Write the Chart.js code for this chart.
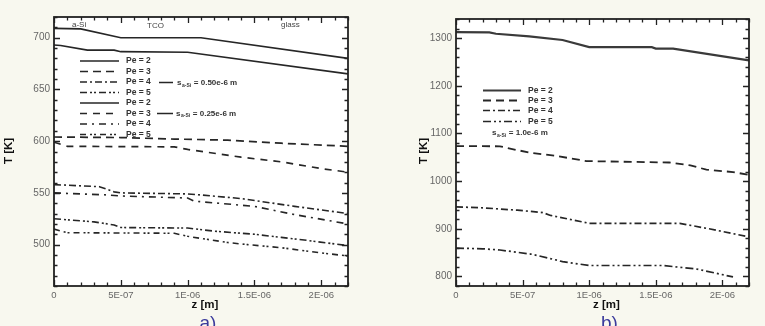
<!DOCTYPE html>
<html><head><meta charset="utf-8">
<script src="https://cdn.jsdelivr.net/npm/chart.js@4/dist/chart.umd.min.js"></script>
<style>
html,body{margin:0;padding:0;background:#f8f8ef;width:765px;height:326px;overflow:hidden;}
#wa{position:absolute;left:0;top:0;width:385px;height:326px;}
#wb{position:absolute;left:385px;top:0;width:380px;height:326px;}
</style></head><body>
<div id="wa"><canvas id="ca" width="385" height="326"></canvas></div>
<div id="wb"><canvas id="cb" width="380" height="326"></canvas></div>
<script>
// ---- axis ticks ----
const zTicks = [0, 5e-7, 1e-6, 1.5e-6, 2e-6];
const zTickLabels = ['0', '5E-07', '1E-06', '1.5E-06', '2E-06'];
const tTicksA = [500, 550, 600, 650, 700];
const tTicksB = [800, 900, 1000, 1100, 1200, 1300];
const legendLabels = ['Pe = 2', 'Pe = 3', 'Pe = 4', 'Pe = 5'];
const sLabelsA = ['0.50e-6 m', '0.25e-6 m'];
const sLabelB = '1.0e-6 m';

// ---- panel a, s_a-Si = 0.50e-6 m ----
const zA50pe2 = [0, 0.2e-6, 0.5e-6, 1.1e-6, 2.2e-6];
const TA50pe2 = [709, 708.5, 700, 700, 680];
const zA50pe3 = [0, 0.5e-6, 0.9e-6, 1.3e-6, 1.7e-6, 2.2e-6];
const TA50pe3 = [604, 603.5, 602, 601, 598, 595];
const zA50pe4 = [0, 0.34e-6, 0.45e-6, 0.5e-6, 1.0e-6, 1.1e-6, 1.4e-6, 1.8e-6, 2.2e-6];
const TA50pe4 = [558, 556, 551, 550, 549, 548, 544.5, 537, 530];
const zA50pe5 = [0, 0.3e-6, 0.45e-6, 0.5e-6, 1.0e-6, 1.2e-6, 1.5e-6, 1.7e-6, 1.9e-6, 2.2e-6];
const TA50pe5 = [525, 522, 519, 516.5, 516, 513, 510, 507, 504, 499];

// ---- panel a, s_a-Si = 0.25e-6 m ----
const zA25pe2 = [0, 0.05e-6, 0.25e-6, 0.45e-6, 0.5e-6, 1.0e-6, 2.2e-6];
const TA25pe2 = [693, 692.5, 688, 688, 686.5, 686, 665];
const zA25pe3 = [0, 0.1e-6, 0.9e-6, 1.0e-6, 1.4e-6, 1.7e-6, 2.0e-6, 2.2e-6];
const TA25pe3 = [599, 595, 594.5, 592, 584.5, 580, 573.5, 570];
const zA25pe4 = [0, 0.4e-6, 0.5e-6, 1.0e-6, 1.05e-6, 1.5e-6, 1.8e-6, 2.2e-6];
const TA25pe4 = [550, 548, 547, 545, 542, 537, 529, 520];
const zA25pe5 = [0, 0.1e-6, 0.9e-6, 1.0e-6, 1.3e-6, 1.45e-6, 1.7e-6, 2.0e-6, 2.2e-6];
const TA25pe5 = [515, 511.5, 511, 508, 502, 500, 497, 492, 489];

// ---- panel b, s_a-Si = 1.0e-6 m ----
const zBpe2 = [0, 0.25e-6, 0.3e-6, 0.55e-6, 0.8e-6, 1.0e-6, 1.47e-6, 1.5e-6, 1.63e-6, 2.2e-6];
const TBpe2 = [1312.5, 1312, 1309, 1303.5, 1296, 1281, 1281, 1278, 1278, 1253];
const zBpe3 = [0, 0.33e-6, 0.46e-6, 0.56e-6, 0.76e-6, 0.98e-6, 1.6e-6, 1.76e-6, 1.88e-6, 2.08e-6, 2.2e-6];
const TBpe3 = [1073.5, 1073, 1065, 1059.5, 1052.5, 1042, 1039, 1033, 1024, 1019, 1013];
const zBpe4 = [0, 0.2e-6, 0.46e-6, 0.65e-6, 0.71e-6, 1.0e-6, 1.68e-6, 1.9e-6, 2.2e-6];
const TBpe4 = [946, 944, 939, 934, 928, 911.5, 911.5, 900, 883];
const zBpe5 = [0, 0.2e-6, 0.33e-6, 0.56e-6, 0.61e-6, 0.76e-6, 0.8e-6, 1.0e-6, 1.55e-6, 1.8e-6, 2.08e-6];
const TBpe5 = [859.5, 858, 855.5, 847, 844, 834, 831, 823, 823, 816, 799];

const FONT = "'Liberation Sans', Arial, Helvetica, sans-serif";
Chart.defaults.font.family = FONT;

const pts = (zs, ts) => zs.map((z, i) => ({x: z, y: ts[i]}));
function ds(label, zs, ts, dash, w, col) {
  return {label, data: pts(zs, ts), borderColor: col || '#262626', borderWidth: w || 1.6,
    borderDash: dash, pointRadius: 0, tension: 0, fill: false, spanGaps: true};
}

function sLabel(ctx, x, y, val) {
  ctx.fillStyle = '#333';
  ctx.textBaseline = 'middle';
  ctx.textAlign = 'left';
  ctx.font = 'bold 8px ' + FONT;
  ctx.fillText('s', x, y);
  let w = ctx.measureText('s').width;
  ctx.font = 'bold 5px ' + FONT;
  ctx.fillText('a-Si', x + w + 0.5, y + 2.5);
  let w2 = ctx.measureText('a-Si').width;
  ctx.font = 'bold 8px ' + FONT;
  ctx.fillText(' = ' + val, x + w + w2 + 1, y);
}

function framePlugin(cfg) {
  return {
    id: 'frame',
    beforeDraw(chart) {
      const {ctx, chartArea: a} = chart;
      ctx.save();
      ctx.fillStyle = '#ffffff';
      ctx.fillRect(a.left, a.top, a.right - a.left, a.bottom - a.top);
      ctx.restore();
    },
    afterDraw(chart) {
      const {ctx, chartArea: a} = chart;
      const xs = chart.scales.x, ys = chart.scales.y;
      ctx.save();
      ctx.strokeStyle = '#222';
      // x ticks (inward, bottom + top)
      ctx.lineWidth = 1.3;
      for (let i = 0; i <= 22; i++) {
        const v = i * 1e-7;
        const px = Math.round(xs.getPixelForValue(v)) + 0.5;
        const L = (i % 5 === 0) ? 6 : 3.5;
        ctx.beginPath();
        ctx.moveTo(px, a.bottom); ctx.lineTo(px, a.bottom - L);
        ctx.moveTo(px, a.top); ctx.lineTo(px, a.top + L);
        ctx.stroke();
      }
      // y ticks (inward, left + right)
      for (let v = cfg.yMin; v <= cfg.yMax + 1e-9; v += cfg.yMinor) {
        const py = Math.round(ys.getPixelForValue(v)) + 0.5;
        const L = (v % cfg.yMajor === 0) ? 6 : 3.5;
        ctx.beginPath();
        ctx.moveTo(a.left, py); ctx.lineTo(a.left + L, py);
        ctx.moveTo(a.right, py); ctx.lineTo(a.right - L, py);
        ctx.stroke();
      }
      // frame
      ctx.lineWidth = 1.8;
      ctx.strokeRect(a.left, a.top, a.right - a.left, a.bottom - a.top);
      // axis titles
      ctx.fillStyle = '#111';
      ctx.font = 'bold 11.5px ' + FONT;
      ctx.textAlign = 'center';
      ctx.textBaseline = 'middle';
      ctx.fillText('z [m]', (a.left + a.right) / 2 + 4, 305);
      ctx.save();
      ctx.translate(cfg.yTitleX, 151);
      ctx.rotate(-Math.PI / 2);
      ctx.fillText('T [K]', 0, 0);
      ctx.restore();
      // panel letter
      ctx.fillStyle = '#3b3b9c';
      ctx.font = '19px ' + FONT;
      ctx.textBaseline = 'alphabetic';
      ctx.fillText(cfg.letter, (a.left + a.right) / 2 + 7, 329);
      // legend
      const dsets = chart.data.datasets;
      ctx.textAlign = 'left';
      ctx.textBaseline = 'middle';
      cfg.legendY.forEach((y, i) => {
        const d = dsets[i];
        ctx.strokeStyle = d.borderColor;
        ctx.lineWidth = d.borderWidth;
        ctx.setLineDash(d.borderDash || []);
        ctx.beginPath();
        ctx.moveTo(cfg.legX0, y); ctx.lineTo(cfg.legX1, y);
        ctx.stroke();
        ctx.setLineDash([]);
        ctx.fillStyle = '#333';
        ctx.font = 'bold 8.5px ' + FONT;
        ctx.fillText(d.label, cfg.legXT, y);
      });
      if (cfg.extra) cfg.extra(ctx, a);
      ctx.restore();
    }
  };
}

function baseOptions(cfg) {
  return {
    responsive: false,
    animation: false,
    events: [],
    layout: {padding: cfg.padding},
    plugins: {legend: {display: false}, tooltip: {enabled: false}},
    scales: {
      x: {
        type: 'linear', min: 0, max: 2.2e-6,
        afterBuildTicks: s => { s.ticks = zTicks.map(v => ({value: v})); },
        afterFit: s => { s.height = cfg.xH; },
        grid: {display: false, drawTicks: false},
        border: {display: false},
        ticks: {padding: 4, color: '#666', font: {size: 9.5}, maxRotation: 0, autoSkip: false,
          callback: (v, i) => zTickLabels[i]}
      },
      y: {
        type: 'linear', min: cfg.yMin, max: cfg.yMax,
        afterBuildTicks: s => { s.ticks = cfg.yTicks.map(v => ({value: v})); },
        afterFit: s => { s.width = cfg.yW; },
        grid: {display: false, drawTicks: false},
        border: {display: false},
        ticks: {padding: 4, color: '#666', font: {size: 10}, autoSkip: false,
          callback: v => String(v)}
      }
    }
  };
}

// ---------- Chart a ----------
const cfgA = {
  padding: {top: 17, right: 37, bottom: 0, left: 0},
  xH: 40, yW: 54, yMin: 460, yMax: 720, yMinor: 10, yMajor: 50, yTicks: tTicksA,
  yTitleX: 9, letter: 'a)',
  legendY: [61, 71.5, 82, 92.5, 103, 113.5, 124, 134.5],
  legX0: 80, legX1: 119, legXT: 126,
  extra(ctx, a) {
    ctx.fillStyle = '#444';
    ctx.font = '8px ' + FONT;
    ctx.textAlign = 'left';
    ctx.fillText('a-Si', 72, 25);
    ctx.fillText('TCO', 147, 26);
    ctx.fillText('glass', 281, 25);
    ctx.strokeStyle = '#262626';
    ctx.lineWidth = 1.4;
    ctx.beginPath();
    ctx.moveTo(159, 82.5); ctx.lineTo(173, 82.5);
    ctx.moveTo(157, 113.5); ctx.lineTo(173, 113.5);
    ctx.stroke();
    sLabel(ctx, 177, 83, sLabelsA[0]);
    sLabel(ctx, 176, 113.5, sLabelsA[1]);
  }
};
new Chart(document.getElementById('ca'), {
  type: 'line',
  data: {datasets: [
    ds(legendLabels[0], zA50pe2, TA50pe2, [], 1.6),
    ds(legendLabels[1], zA50pe3, TA50pe3, [8, 5], 1.7),
    ds(legendLabels[2], zA50pe4, TA50pe4, [7, 3, 2, 3], 1.6),
    ds(legendLabels[3], zA50pe5, TA50pe5, [7, 3, 2, 2, 2, 3], 1.6),
    ds(legendLabels[0], zA25pe2, TA25pe2, [], 1.6),
    ds(legendLabels[1], zA25pe3, TA25pe3, [7, 6], 1.7),
    ds(legendLabels[2], zA25pe4, TA25pe4, [7, 5, 2, 5], 1.6),
    ds(legendLabels[3], zA25pe5, TA25pe5, [6, 4, 2, 2, 2, 4], 1.6)
  ]},
  options: baseOptions(cfgA),
  plugins: [framePlugin(cfgA)]
});

// ---------- Chart b ----------
const cfgB = {
  padding: {top: 19, right: 16, bottom: 0, left: 0},
  xH: 40, yW: 71, yMin: 780, yMax: 1340, yMinor: 20, yMajor: 100, yTicks: tTicksB,
  yTitleX: 39, letter: 'b)',
  legendY: [90.5, 100.5, 110.5, 121.5],
  legX0: 98, legX1: 136, legXT: 143,
  extra(ctx, a) {
    sLabel(ctx, 107, 133, sLabelB);
  }
};
new Chart(document.getElementById('cb'), {
  type: 'line',
  data: {datasets: [
    ds(legendLabels[0], zBpe2, TBpe2, [], 2.2, '#3a3a3a'),
    ds(legendLabels[1], zBpe3, TBpe3, [8, 5], 1.8),
    ds(legendLabels[2], zBpe4, TBpe4, [7, 3, 2, 3], 1.7),
    ds(legendLabels[3], zBpe5, TBpe5, [8, 3, 2, 3, 2, 3], 1.7)
  ]},
  options: baseOptions(cfgB),
  plugins: [framePlugin(cfgB)]
});
</script>
</body></html>
